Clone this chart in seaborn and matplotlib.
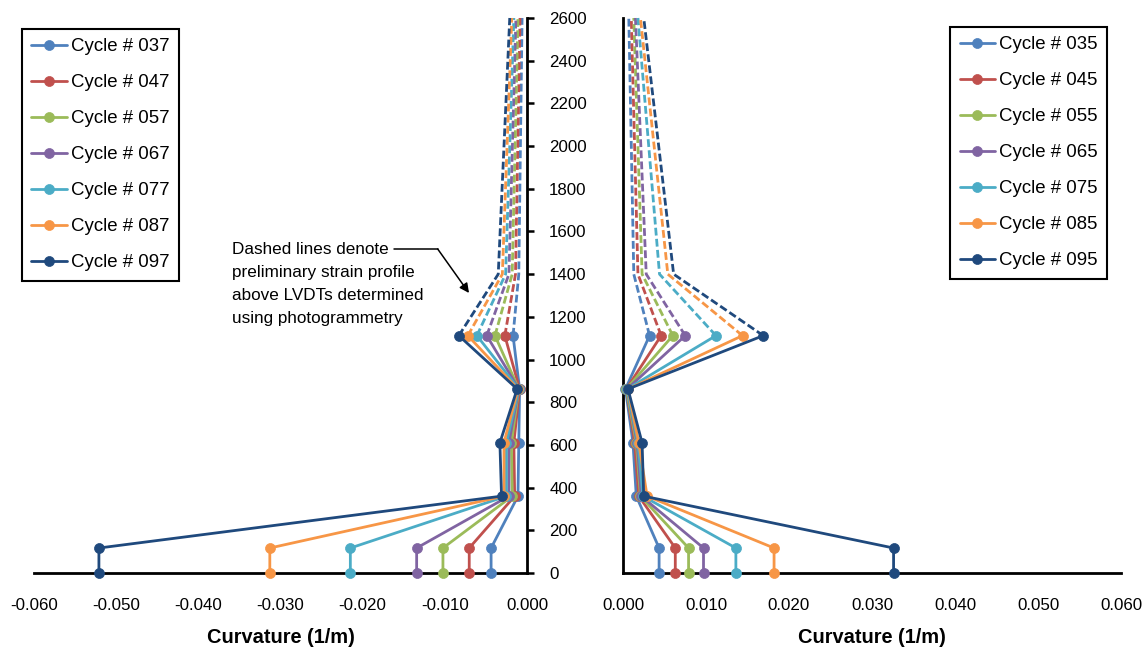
import numpy as np
import pandas as pd
import matplotlib
matplotlib.use("Agg")
import matplotlib.pyplot as plt
import seaborn as sns
from matplotlib.lines import Line2D
from matplotlib import font_manager
from matplotlib.ticker import FuncFormatter

# ---------------- data ----------------
heights_solid = [0, 117, 360, 610, 862, 1112]
heights_dashed = [1112, 1400, 2600]

left_cycles = ["Cycle # 037", "Cycle # 047", "Cycle # 057", "Cycle # 067",
               "Cycle # 077", "Cycle # 087", "Cycle # 097"]
right_cycles = ["Cycle # 035", "Cycle # 045", "Cycle # 055", "Cycle # 065",
                "Cycle # 075", "Cycle # 085", "Cycle # 095"]
colors = ["#4F81BD", "#C0504D", "#9BBB59", "#8064A2", "#4BACC6", "#F79646", "#1F497D"]

# left panel curvature (1/m) at each height, in cycle order
left_at_0    = [-0.00437, -0.00703, -0.01023, -0.01343, -0.0215, -0.0313, -0.0521]
left_at_117  = [-0.00437, -0.00703, -0.01023, -0.01343, -0.0215, -0.0313, -0.0521]
left_at_360  = [-0.0011, -0.0015, -0.0018, -0.0022, -0.0025, -0.0028, -0.0031]
left_at_610  = [-0.0010, -0.0016, -0.0019, -0.0022, -0.0025, -0.0028, -0.0033]
left_at_862  = [-0.0009, -0.0009, -0.0010, -0.0010, -0.0010, -0.0011, -0.0012]
left_at_1112 = [-0.0017, -0.0027, -0.0039, -0.0049, -0.0061, -0.0072, -0.0083]
left_at_1400 = [-0.0010, -0.0014, -0.0018, -0.0022, -0.0026, -0.0030, -0.0035]
left_at_2600 = [-0.0006, -0.00085, -0.0011, -0.00135, -0.0016, -0.00185, -0.0021]

# right panel curvature (1/m) at each height, in cycle order
right_at_0    = [0.00435, 0.0063, 0.0079, 0.0097, 0.0136, 0.0182, 0.0326]
right_at_117  = [0.00435, 0.0063, 0.0079, 0.0097, 0.0136, 0.0182, 0.0326]
right_at_360  = [0.0016, 0.0019, 0.0021, 0.0022, 0.0024, 0.0029, 0.0025]
right_at_610  = [0.0012, 0.0014, 0.0016, 0.0017, 0.0018, 0.0019, 0.0023]
right_at_862  = [0.0003, 0.0004, 0.0004, 0.0005, 0.0005, 0.0006, 0.0006]
right_at_1112 = [0.0032, 0.0046, 0.0060, 0.0075, 0.0112, 0.0144, 0.0169]
right_at_1400 = [0.0013, 0.0018, 0.0023, 0.0028, 0.0044, 0.0054, 0.0061]
right_at_2600 = [0.0007, 0.0010, 0.0013, 0.0015, 0.0018, 0.0021, 0.0025]

# ---------------- style ----------------
sns.set_style("white")
names = {f.name for f in font_manager.fontManager.ttflist}
narrow = "Liberation Sans Narrow" in names
fam = "Liberation Sans Narrow" if narrow else "Liberation Sans"
plt.rcParams["font.family"] = [fam, "DejaVu Sans"]
plt.rcParams["text.color"] = "black"
plt.rcParams["axes.labelcolor"] = "black"
k = 1.0 / 0.82 if narrow else 1.0

W, H = 1147, 651
fig = plt.figure(figsize=(W / 100, H / 100), dpi=100)
bot = 1 - 573 / H
hgt = (573 - 18) / H
ax1 = fig.add_axes([34 / W, bot, 493 / W, hgt])
ax2 = fig.add_axes([623 / W, bot, 498 / W, hgt])

LW = 2.0
MS = 7.2
DASH = (0, (2.8, 1.2))


def draw_panel(ax, cycles, solid_levels, dashed_levels):
    for i, cyc in enumerate(cycles):
        c = colors[i]
        sdf = pd.DataFrame({"curv": [lvl[i] for lvl in solid_levels],
                            "h": heights_solid})
        ddf = pd.DataFrame({"curv": [lvl[i] for lvl in dashed_levels],
                            "h": heights_dashed})
        sns.lineplot(data=ddf, x="curv", y="h", sort=False, estimator=None,
                     orient="y", color=c, lw=LW, linestyle=DASH, ax=ax,
                     legend=False, clip_on=False, zorder=2 + i)
        sns.lineplot(data=sdf, x="curv", y="h", sort=False, estimator=None,
                     orient="y", color=c, lw=LW, marker="o", markersize=MS,
                     markeredgecolor=c, markeredgewidth=0.5, ax=ax,
                     legend=False, clip_on=False, zorder=10 + i)


draw_panel(ax1, left_cycles,
           [left_at_0, left_at_117, left_at_360, left_at_610, left_at_862, left_at_1112],
           [left_at_1112, left_at_1400, left_at_2600])
draw_panel(ax2, right_cycles,
           [right_at_0, right_at_117, right_at_360, right_at_610, right_at_862, right_at_1112],
           [right_at_1112, right_at_1400, right_at_2600])

fmt = FuncFormatter(lambda v, p: "0.000" if abs(v) < 1e-9 else f"{v:.3f}")
TICK_FS = 12.2 * k
LEG_FS = 13.4 * k
ANN_FS = 12.3 * k
LAB_FS = 14.4 * k

for ax, xlim in ((ax1, (-0.06, 0.0)), (ax2, (0.0, 0.06))):
    ax.set_xlim(*xlim)
    ax.set_ylim(0, 2600)
    ax.set_xticks(np.round(np.arange(xlim[0], xlim[1] + 1e-9, 0.01), 3))
    ax.set_yticks(np.arange(0, 2601, 200))
    ax.xaxis.set_major_formatter(fmt)
    ax.set_xlabel("Curvature (1/m)", fontsize=LAB_FS, fontweight="bold",
                  labelpad=11, color="black")
    ax.set_ylabel("")
    ax.tick_params(axis="x", direction="out", length=5, width=1.8, pad=13,
                   labelsize=TICK_FS, colors="black")
    ax.tick_params(axis="y", direction="out", length=5, width=1.8, pad=11,
                   labelsize=TICK_FS, colors="black")
    ax.spines["top"].set_visible(False)
    for s in ax.spines.values():
        s.set_linewidth(2.0)
        s.set_color("black")
    ax.set_facecolor("none")

ax1.spines["left"].set_visible(False)
ax1.yaxis.tick_right()
ax2.spines["right"].set_visible(False)
ax2.tick_params(axis="y", labelleft=False)

# ---------------- legends ----------------
def handles():
    return [Line2D([0], [0], color=c, lw=LW, marker="o", markersize=MS,
                   markeredgecolor=c, markeredgewidth=0.5) for c in colors]

leg_kw = dict(frameon=True, fancybox=False, edgecolor="black", framealpha=1,
              fontsize=LEG_FS, handlelength=1.9, handletextpad=0.22,
              labelspacing=1.02, borderpad=0.5, borderaxespad=0,
              bbox_transform=fig.transFigure, labelcolor="black")
leg1 = fig.legend(handles(), left_cycles, loc="upper left",
                  bbox_to_anchor=(22 / W, 1 - 29 / H), **leg_kw)
leg2 = fig.legend(handles(), right_cycles, loc="upper right",
                  bbox_to_anchor=(1107 / W, 1 - 27 / H), **leg_kw)
for lg in (leg1, leg2):
    lg.get_frame().set_linewidth(1.5)

# ---------------- annotation ----------------
fig.text(232 / W, 1 - 242 / H,
         "Dashed lines denote\npreliminary strain profile\nabove LVDTs determined\nusing photogrammetry",
         ha="left", va="top", fontsize=ANN_FS, linespacing=1.68, color="black")
fig.add_artist(Line2D([394 / W, 437.7 / W], [1 - 249 / H, 1 - 249 / H],
                      color="black", lw=1.1, transform=fig.transFigure))
ax1.annotate("", xy=(469 / W, 1 - 293 / H), xytext=(437.7 / W, 1 - 249 / H),
             xycoords="figure fraction", textcoords="figure fraction",
             arrowprops=dict(arrowstyle="-|>", color="black", lw=1.1,
                             mutation_scale=14, shrinkA=0, shrinkB=0))

fig.savefig("out.png", dpi=100, facecolor="white")
